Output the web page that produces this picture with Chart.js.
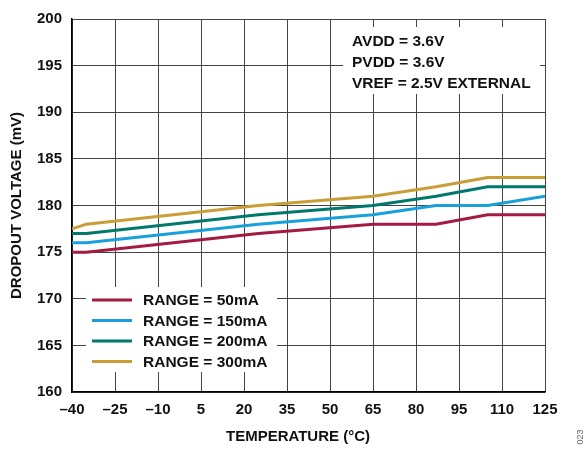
<!DOCTYPE html>
<html>
<head>
<meta charset="utf-8">
<script src="https://cdn.jsdelivr.net/npm/chart.js@4/dist/chart.umd.min.js"></script>
<style>
  html, body { margin: 0; padding: 0; background: #fff; }
  #wrap { width: 587px; height: 449px; position: relative; }
</style>
</head>
<body>
<div id="wrap"><canvas id="dropout"></canvas></div>
<script>
const temps = [-40, -35, 25, 65, 87, 105, 125];
const range50 = [175, 175, 177, 178, 178, 179, 179];
const range150 = [176, 176, 178, 179, 180, 180, 181];
const range200 = [177, 177, 179, 180, 181, 182, 182];
const range300 = [177.5, 178, 180, 181, 182, 183, 183];
const seriesLabels = ['RANGE = 50mA', 'RANGE = 150mA', 'RANGE = 200mA', 'RANGE = 300mA'];
const notes = ['AVDD = 3.6V', 'PVDD = 3.6V', 'VREF = 2.5V EXTERNAL'];
const xTitle = 'TEMPERATURE (°C)';
const yTitle = 'DROPOUT VOLTAGE (mV)';

const colors = ['#A41A41', '#18A0DA', '#00786C', '#C99E36'];
const FONT = "'Liberation Sans', Arial, sans-serif";

function pts(vals) {
  return temps.map((t, i) => ({ x: t, y: vals[i] }));
}

const datasets = [range50, range150, range200, range300].map((vals, i) => ({
  label: seriesLabels[i],
  data: pts(vals),
  borderColor: colors[i],
  backgroundColor: colors[i],
  borderWidth: 3,
  pointRadius: 0,
  tension: 0,
  fill: false
}));

// white boxes for the legend and the conditions, drawn over the grid
const boxes = {
  id: 'boxes',
  beforeDatasetsDraw(chart) {
    const c = chart.ctx;
    c.save();
    c.fillStyle = '#fff';
    c.fillRect(86, 287, 191, 85);
    c.fillRect(343, 27, 197, 67);

    c.font = 'bold 15.5px ' + FONT;
    c.textBaseline = 'middle';
    c.textAlign = 'left';
    seriesLabels.forEach((lab, i) => {
      const y = 300 + i * 20.5;
      c.strokeStyle = colors[i];
      c.lineWidth = 3;
      c.beginPath();
      c.moveTo(92, y);
      c.lineTo(132, y);
      c.stroke();
      c.fillStyle = '#111';
      c.fillText(lab, 143, y + 1);
    });
    notes.forEach((txt, i) => {
      c.fillText(txt, 352, 42 + i * 21);
    });

    c.font = 'bold 15px ' + FONT;
    c.textAlign = 'center';
    c.fillText(xTitle, 298, 437);

    c.save();
    c.translate(581, 437);
    c.rotate(-Math.PI / 2);
    c.font = '9px ' + FONT;
    c.fillStyle = '#666';
    c.fillText('023', 0, 0);
    c.restore();
    c.restore();
  }
};

new Chart(document.getElementById('dropout').getContext('2d'), {
  type: 'line',
  data: { datasets: datasets },
  plugins: [boxes],
  options: {
    responsive: true,
    maintainAspectRatio: false,
    animation: false,
    layout: { padding: { top: 13, right: 42, left: 0, bottom: 0 } },
    plugins: {
      legend: { display: false },
      tooltip: { enabled: false }
    },
    scales: {
      x: {
        type: 'linear',
        min: -40,
        max: 125,
        afterFit: (s) => { s.height = 57; },
        ticks: {
          stepSize: 15,
          padding: 9,
          color: '#111',
          font: { family: FONT, size: 15, weight: 'bold' },
          callback: (v) => String(v).replace('-', '\u2013')
        },
        grid: { color: '#444', lineWidth: 1, drawTicks: false },
        border: { color: '#000', width: 1.5 }
      },
      y: {
        min: 160,
        max: 200,
        afterFit: (s) => { s.width = 72; },
        ticks: {
          stepSize: 5,
          padding: 10,
          color: '#111',
          font: { family: FONT, size: 15, weight: 'bold' }
        },
        title: {
          display: true,
          text: yTitle,
          color: '#111',
          padding: { top: 8, bottom: 0 },
          font: { family: FONT, size: 15, weight: 'bold' }
        },
        grid: { color: '#444', lineWidth: 1, drawTicks: false },
        border: { color: '#000', width: 1.5 }
      }
    }
  }
});
</script>
</body>
</html>
